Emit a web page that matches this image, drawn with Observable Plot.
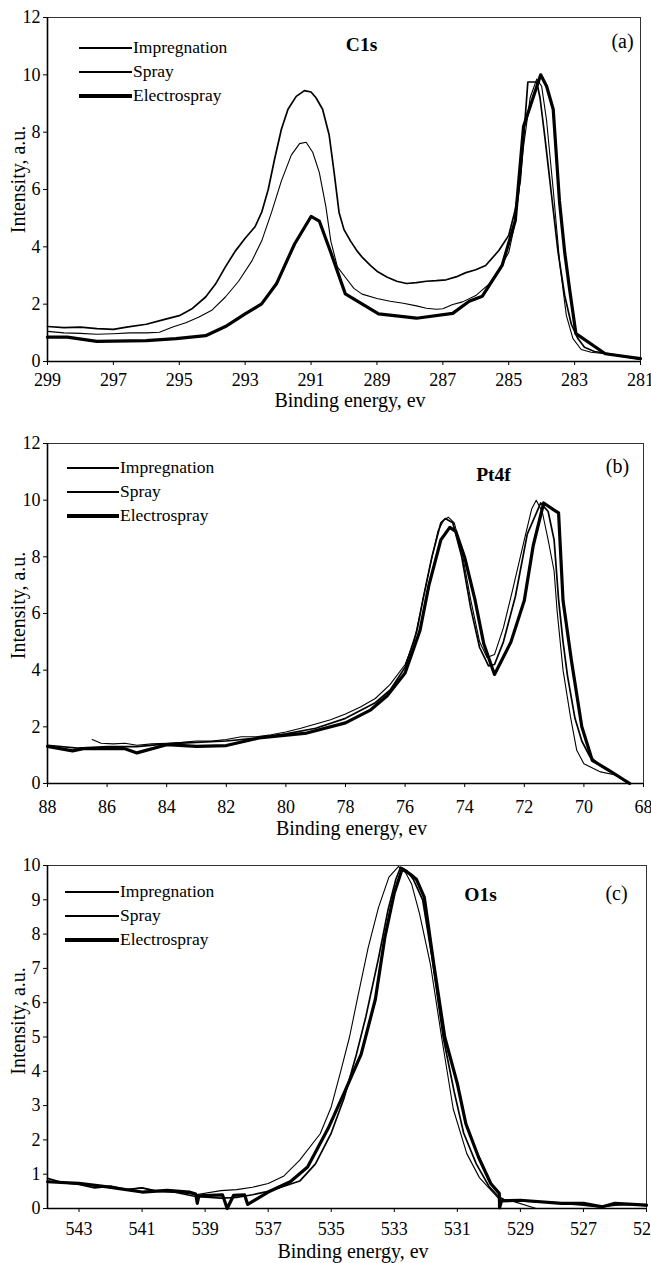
<!DOCTYPE html>
<html><head><meta charset="utf-8">
<script src="https://cdn.jsdelivr.net/npm/d3@7"></script>
<script src="https://cdn.jsdelivr.net/npm/@observablehq/plot@0.6"></script>
<style>
body{margin:0;background:#fff;}
#wrap{position:relative;width:651px;height:1263px;overflow:hidden;background:#fff;font-family:"Liberation Serif","Tinos","Times New Roman",Times,"DejaVu Serif",serif;}
.panel{position:relative;width:651px;}
.panel svg{display:block;}
.lrow{position:absolute;height:24px;display:flex;align-items:center;white-space:nowrap;font-size:17.5px;color:#000;}
.lline{background:#000;}
.ltext{margin-left:1px;line-height:1;}
</style></head><body><div id="wrap"></div>
<script>
// ---------- series names / styles ----------
const seriesNames = ["Impregnation", "Spray", "Electrospray"];
const seriesWidths = [1.7, 1.1, 3.2];

// ---------- (a) C1s ----------
const c1sTicksX = [299, 297, 295, 293, 291, 289, 287, 285, 283, 281];
const c1sTicksY = [0, 2, 4, 6, 8, 10, 12];
const c1sImpregnation = [[299,1.22],[298.5,1.18],[298,1.2],[297.5,1.15],[297,1.12],[296.6,1.2],[296,1.3],[295.5,1.45],[295,1.6],[294.6,1.85],[294.2,2.25],[293.9,2.7],[293.6,3.3],[293.3,3.85],[293,4.3],[292.7,4.7],[292.5,5.2],[292.3,6.0],[292.1,7.1],[291.9,8.1],[291.7,8.8],[291.45,9.25],[291.2,9.45],[291.0,9.4],[290.85,9.2],[290.65,8.8],[290.45,7.9],[290.3,6.6],[290.15,5.2],[290.0,4.6],[289.8,4.2],[289.6,3.85],[289.45,3.64],[289.2,3.35],[289,3.15],[288.7,2.95],[288.4,2.8],[288.1,2.72],[287.8,2.75],[287.5,2.8],[287.2,2.82],[286.9,2.85],[286.6,2.95],[286.3,3.1],[286,3.2],[285.7,3.35],[285.3,3.87],[285.0,4.4],[284.8,5.3],[284.65,6.3],[284.5,8.5],[284.42,9.75],[284.15,9.75],[284.05,9.2],[283.9,7.8],[283.7,5.8],[283.5,3.8],[283.3,2.3],[283.1,1.3],[282.9,0.8],[282.7,0.5],[282.4,0.35],[282,0.28],[281.5,0.18],[281,0.08]];
const c1sSpray = [[299,1.05],[298.5,1.0],[298,0.98],[297.5,0.95],[297,0.97],[296.5,1.0],[296,1.0],[295.6,1.02],[295.2,1.2],[294.8,1.35],[294.4,1.55],[294,1.8],[293.6,2.25],[293.2,2.8],[292.8,3.5],[292.5,4.2],[292.2,5.2],[291.9,6.3],[291.6,7.2],[291.35,7.6],[291.15,7.65],[290.95,7.3],[290.75,6.6],[290.55,5.4],[290.4,4.2],[290.2,3.3],[289.96,2.94],[289.7,2.55],[289.45,2.35],[289,2.2],[288.6,2.1],[288.2,2.03],[287.8,1.94],[287.5,1.86],[287.2,1.82],[287,1.84],[286.7,1.99],[286.4,2.08],[286,2.3],[285.6,2.7],[285.3,3.2],[285,3.8],[284.85,4.6],[284.7,5.8],[284.55,7.5],[284.35,9.2],[284.15,9.85],[284.0,9.6],[283.85,8.4],[283.65,6.0],[283.45,3.4],[283.25,1.6],[283.05,0.8],[282.8,0.42],[282.5,0.32],[282,0.26],[281.5,0.17],[281,0.08]];
const c1sElectrospray = [[299,0.85],[298.4,0.85],[297.5,0.7],[296,0.73],[295.1,0.8],[294.2,0.9],[293.6,1.22],[293,1.66],[292.5,2.01],[292.05,2.71],[291.5,4.1],[291.0,5.06],[290.75,4.9],[290.4,3.8],[289.96,2.36],[288.95,1.66],[287.8,1.51],[286.7,1.68],[286.2,2.1],[285.8,2.28],[285.2,3.35],[284.8,4.92],[284.55,8.2],[284.03,10.0],[283.85,9.6],[283.65,8.8],[283.46,5.6],[283.3,3.8],[283.15,2.5],[282.96,0.97],[282.07,0.27],[281,0.1]];

// ---------- (b) Pt4f ----------
const ptTicksX = [88, 86, 84, 82, 80, 78, 76, 74, 72, 70, 68];
const ptTicksY = [0, 2, 4, 6, 8, 10, 12];
const ptImpregnation = [[88,1.35],[87,1.25],[86,1.3],[85,1.3],[84,1.4],[83,1.45],[82,1.5],[81,1.6],[80,1.75],[79,1.95],[78,2.3],[77,2.85],[76.5,3.3],[76,4.1],[75.6,5.4],[75.4,6.5],[75.1,8.0],[74.8,9.2],[74.65,9.35],[74.4,9.2],[74.1,8.0],[73.8,6.2],[73.5,4.8],[73.2,4.15],[73.0,4.2],[72.7,5.0],[72.3,6.6],[71.9,8.8],[71.45,9.9],[71.2,9.6],[71.0,8.6],[70.85,6.5],[70.7,5.0],[70.55,3.8],[70.3,2.3],[70.07,1.5],[69.8,0.95],[69.4,0.6],[69.0,0.35],[68.5,0.0]];
const ptSpray = [[86.5,1.55],[86.2,1.42],[85.8,1.4],[85.4,1.42],[85,1.35],[84.5,1.4],[84,1.42],[83.5,1.45],[83,1.5],[82.5,1.5],[82,1.55],[81.5,1.65],[81,1.65],[80.5,1.72],[80,1.82],[79.5,1.95],[79,2.1],[78.5,2.25],[78,2.45],[77.5,2.7],[77,3.0],[76.5,3.5],[76,4.2],[75.7,5.0],[75.5,6.0],[75.2,7.5],[74.9,8.9],[74.7,9.3],[74.55,9.4],[74.35,9.2],[74.1,8.2],[73.8,6.5],[73.5,5.0],[73.25,4.45],[73.0,4.55],[72.7,5.5],[72.4,6.8],[72.0,8.6],[71.75,9.7],[71.6,10.0],[71.4,9.6],[71.2,8.6],[71.0,7.5],[70.9,6.1],[70.7,4.0],[70.45,2.35],[70.24,1.17],[70.0,0.7],[69.44,0.41],[68.9,0.29]];
const ptElectrospray = [[88,1.31],[87.16,1.15],[86.8,1.23],[85.4,1.23],[85.0,1.08],[84.0,1.37],[83.0,1.31],[82.0,1.34],[80.9,1.61],[79.3,1.78],[78.0,2.14],[77.15,2.6],[76.6,3.1],[76.0,3.9],[75.5,5.4],[75.2,7.0],[74.8,8.6],[74.5,9.04],[74.3,8.9],[74.0,7.98],[73.65,6.46],[73.36,4.93],[73.0,3.85],[72.45,4.99],[72.0,6.46],[71.7,8.4],[71.35,9.9],[71.0,9.65],[70.85,9.55],[70.7,6.46],[70.42,4.35],[70.07,2.0],[69.72,0.82],[69.16,0.46],[68.46,0.0]];

// ---------- (c) O1s ----------
const o1sTicksX = [543, 541, 539, 537, 535, 533, 531, 529, 527, 525];
const o1sTicksY = [0, 1, 2, 3, 4, 5, 6, 7, 8, 9, 10];
const o1sImpregnation = [[544,0.88],[543.5,0.75],[543,0.7],[542.5,0.6],[542,0.65],[541.5,0.55],[541,0.6],[540.5,0.5],[540,0.48],[539.3,0.35],[538.5,0.3],[538,0.32],[537.5,0.4],[537,0.5],[536.5,0.65],[536,0.8],[535.5,1.3],[535.0,2.2],[534.6,3.2],[534.2,4.5],[533.9,5.6],[533.5,7.3],[533.2,8.7],[532.95,9.6],[532.8,9.95],[532.6,9.85],[532.4,9.6],[532.1,9.0],[531.8,7.3],[531.45,5.0],[531.1,3.4],[530.8,2.2],[530.4,1.3],[530,0.65],[529.7,0.35],[529.5,0.25],[529,0.22],[528,0.18],[527,0.1],[526.5,0.05],[526,0.1],[525.5,0.12],[525,0.08]];
const o1sSpray = [[544,0.8],[543,0.72],[542,0.62],[541.5,0.55],[541,0.6],[540.5,0.5],[540,0.5],[539.3,0.4],[538.5,0.52],[538,0.55],[537.5,0.62],[537,0.73],[536.5,0.95],[536,1.41],[535.35,2.18],[535.0,2.96],[534.7,4.0],[534.42,5.0],[534.16,6.16],[533.83,7.6],[533.5,8.78],[533.17,9.66],[532.87,9.97],[532.65,9.8],[532.45,9.46],[532.2,8.6],[531.85,7.1],[531.5,5.0],[531.13,2.9],[530.7,1.6],[530.3,0.9],[529.9,0.5],[529.7,0.3],[529.2,0.2],[528.5,0.0]];
const o1sElectrospray = [[544,0.78],[543,0.73],[542.1,0.63],[541,0.48],[540.2,0.53],[539.5,0.48],[539.3,0.42],[539.25,0.15],[539.2,0.37],[538.45,0.4],[538.3,0.0],[538.1,0.38],[537.75,0.4],[537.65,0.12],[537.0,0.48],[536.3,0.78],[535.75,1.21],[535.1,2.33],[534.55,3.45],[534.05,4.5],[533.6,6.1],[533.3,7.9],[533.0,9.2],[532.75,9.9],[532.5,9.75],[532.3,9.6],[532.05,9.08],[531.75,7.14],[531.4,5.0],[531.0,3.64],[530.73,2.47],[530.33,1.5],[529.94,0.73],[529.67,0.44],[529.66,0.02],[529.6,0.22],[529,0.24],[527.7,0.15],[527,0.15],[526.4,0.05],[526,0.15],[525,0.1]];

// ---------- panel definitions (built from the arrays above) ----------
const panels = [
  {title:"C1s", letter:"(a)", series:[c1sImpregnation, c1sSpray, c1sElectrospray],
   xDomain:[299,281], xTicks:c1sTicksX, yDomain:[0,12], yTicks:c1sTicksY,
   height:420, mt:17, mb:59, mr:11, xPad:7.5, labelDy:39, yLabDy:-10,
   legend:{x0:79, x1:132, y0:48}, titlePos:[361,44], letterPos:[622,41]},
  {title:"Pt4f", letter:"(b)", series:[ptImpregnation, ptSpray, ptElectrospray],
   xDomain:[88,68], xTicks:ptTicksX, yDomain:[0,12], yTicks:ptTicksY,
   height:420, mt:23, mb:57, mr:8, xPad:13, labelDy:45, yLabDy:-8,
   legend:{x0:67, x1:119, y0:48}, titlePos:[493,54], letterPos:[617,46]},
  {title:"O1s", letter:"(c)", series:[o1sImpregnation, o1sSpray, o1sElectrospray],
   xDomain:[544,525], xTicks:o1sTicksX, yDomain:[0,10], yTicks:o1sTicksY,
   height:423, mt:25, mb:55, mr:5, xPad:9.5, labelDy:43, yLabDy:-16,
   legend:{x0:65, x1:119, y0:52}, titlePos:[480,54], letterPos:[616,53]}
];

const FS = 18;      // tick labels
const FL = 20;      // axis titles
const ML = 47;
const FONT = '"Liberation Serif","Tinos","Times New Roman",Times,"DejaVu Serif",serif';
const wrap = document.getElementById("wrap");

for (const p of panels) {
  const rows = [];
  p.series.forEach((arr, i) => arr.forEach(([x, y]) => rows.push({series: seriesNames[i], x, y})));
  const order = [2, 0, 1];
  const lineMarks = order.map(i => Plot.line(rows.filter(d => d.series === seriesNames[i]),
      {x: "x", y: "y", stroke: "black", strokeWidth: seriesWidths[i], strokeLinejoin: "round", curve: "linear"}));
  const chart = Plot.plot({
    width: 651, height: p.height,
    marginLeft: ML, marginRight: p.mr, marginTop: p.mt, marginBottom: p.mb,
    style: {fontFamily: FONT, fontSize: FS + "px", color: "black", background: "white", overflow: "visible"},
    x: {domain: p.xDomain},
    y: {domain: p.yDomain},
    marks: [
      Plot.frame({stroke: "#333", strokeWidth: 1}),
      ...lineMarks,
      Plot.ruleX([p.xDomain[0]], {stroke: "black", strokeWidth: 1.6}),
      Plot.ruleY([p.yDomain[0]], {stroke: "black", strokeWidth: 1.6}),
      Plot.axisX({ticks: p.xTicks, tickSize: 4, tickPadding: p.xPad, fontSize: FS, tickFormat: d => String(d), label: null, stroke: "black", fill: "black"}),
      Plot.axisY({ticks: p.yTicks, tickSize: 4, tickPadding: 3, fontSize: FS, tickFormat: d => String(d), label: null, stroke: "black", fill: "black"}),
      Plot.text(["Binding energy, ev"], {frameAnchor: "bottom", dx: 6, dy: p.labelDy, fontSize: FL, fill: "black", lineAnchor: "middle"}),
      Plot.text(["Intensity, a.u."], {frameAnchor: "left", dx: -29, dy: p.yLabDy, rotate: -90, fontSize: FL, fill: "black", textAnchor: "middle", lineAnchor: "middle"}),
      Plot.text([p.title], {frameAnchor: "top-left", dx: p.titlePos[0] - ML, dy: p.titlePos[1] - p.mt, textAnchor: "middle", lineAnchor: "middle", fontWeight: "bold", fontSize: 19.5, fill: "black"}),
      Plot.text([p.letter], {frameAnchor: "top-left", dx: p.letterPos[0] - ML, dy: p.letterPos[1] - p.mt, textAnchor: "middle", lineAnchor: "middle", fontSize: 20, fill: "black"})
    ]
  });
  chart.querySelectorAll("text").forEach(t => t.setAttribute("font-family", FONT));
  chart.style.fontFamily = FONT;
  const div = document.createElement("div");
  div.className = "panel";
  div.style.height = p.height + "px";
  div.appendChild(chart);
  seriesNames.forEach((name, i) => {
    const row = document.createElement("div");
    row.className = "lrow";
    row.style.left = p.legend.x0 + "px";
    row.style.top = (p.legend.y0 + i * 24 - 12) + "px";
    const ln = document.createElement("div");
    ln.className = "lline";
    ln.style.width = (p.legend.x1 - p.legend.x0) + "px";
    ln.style.height = (i === 2 ? 4 : i === 0 ? 2 : 1.3) + "px";
    const tx = document.createElement("span");
    tx.className = "ltext";
    tx.textContent = name;
    row.appendChild(ln); row.appendChild(tx);
    div.appendChild(row);
  });
  wrap.appendChild(div);
}
</script>
</body></html>
